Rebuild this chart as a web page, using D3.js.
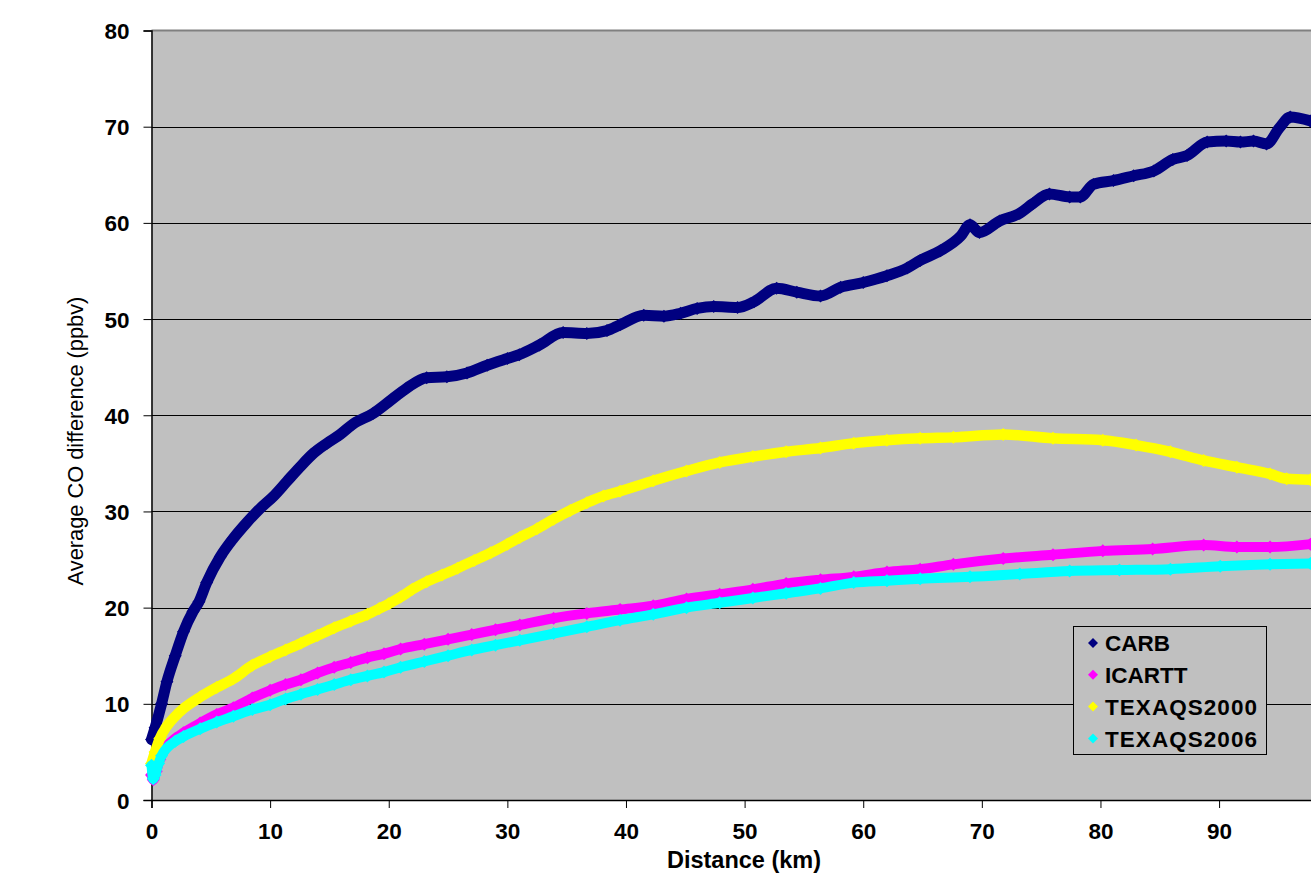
<!DOCTYPE html>
<html>
<head>
<meta charset="utf-8">
<script src="https://cdn.jsdelivr.net/npm/d3@7"></script>
<style>
  html, body { margin: 0; padding: 0; background: #ffffff; }
  svg { display: block; }
  text { font-family: Arial, "Liberation Sans", sans-serif; }
</style>
</head>
<body>
<svg id="chart" width="1311" height="896"></svg>
<script>
// ---------------- DATA ----------------
const seriesNames = ["CARB", "ICARTT", "TEXAQS2000", "TEXAQS2006"];
const seriesColors = ["#000080", "#FF00FF", "#FFFF00", "#00FFFF"];

const yTicks = [0, 10, 20, 30, 40, 50, 60, 70, 80];
const xTicks = [0, 10, 20, 30, 40, 50, 60, 70, 80, 90];

const carbDist = [0, 0.3, 0.85, 1.3, 2.0, 2.7, 3.5, 4.0, 4.65, 5.8, 6.9, 8.0, 9.15, 10.3, 11.4, 12.5, 13.7, 14.8, 15.9, 17.0, 18.7, 19.9, 21.5, 23.2, 24.9, 26.6, 28.3, 30, 31, 32.7, 34.7, 36.7, 38.4, 39.5, 41.5, 43.2, 44.6, 46.0, 47.4, 49.4, 50.8, 52.7, 54.4, 56.4, 58.1, 60.0, 62.0, 63.7, 64.8, 66.5, 68.2, 69.0, 69.8, 71.5, 73.2, 74.3, 75.7, 77.4, 78.3, 79.4, 81.1, 82.8, 84.5, 86.1, 87.3, 89.0, 90.6, 91.8, 92.9, 94.0, 95.1, 96.0, 97.7];
const carbCO = [6.3, 7.5, 10.0, 12.3, 15.0, 17.5, 19.6, 20.6, 22.6, 25.3, 27.2, 28.8, 30.3, 31.6, 33.1, 34.6, 36.1, 37.1, 38.0, 39.1, 40.2, 41.3, 42.8, 43.9, 44.0, 44.4, 45.2, 45.9, 46.3, 47.3, 48.6, 48.5, 48.8, 49.4, 50.4, 50.3, 50.6, 51.1, 51.3, 51.2, 51.8, 53.2, 52.8, 52.4, 53.3, 53.8, 54.5, 55.3, 56.1, 57.1, 58.6, 59.8, 59.0, 60.2, 61.0, 62.0, 63.0, 62.7, 62.7, 64.0, 64.4, 64.9, 65.4, 66.6, 67.0, 68.4, 68.5, 68.4, 68.5, 68.2, 69.9, 71.0, 70.6];

const icarttDist = [0, 0.15, 0.4, 0.7, 1.3, 2.0, 2.7, 4.1, 5.5, 6.9, 8.5, 10, 11.3, 12.6, 14, 15.4, 16.8, 18.2, 19.6, 21, 23, 25, 27, 29, 31.05, 33.9, 36.7, 39.5, 42.3, 45.1, 47.9, 50.7, 53.5, 56.4, 59.2, 62, 64.8, 67.6, 71.8, 76, 80.2, 84.4, 88.7, 91.5, 94.3, 97.7];
const icarttCO = [2.6, 2.1, 3.0, 4.2, 5.6, 6.4, 7.0, 8.0, 8.9, 9.6, 10.6, 11.4, 12.0, 12.5, 13.2, 13.8, 14.3, 14.8, 15.2, 15.7, 16.2, 16.7, 17.2, 17.7, 18.2, 18.9, 19.4, 19.8, 20.2, 20.9, 21.4, 21.9, 22.5, 22.9, 23.2, 23.7, 24.0, 24.5, 25.1, 25.5, 25.9, 26.1, 26.5, 26.3, 26.3, 26.6];

const tx2000Dist = [0, 0.3, 0.7, 1.3, 2.0, 2.7, 4.1, 5.5, 6.9, 8.5, 10, 11.3, 12.6, 14, 15.4, 16.8, 18.2, 19.2, 20, 21, 22, 23.2, 24.5, 25.8, 27.2, 28.6, 30, 31.05, 32.5, 33.9, 35.3, 36.7, 38.1, 39.5, 42.3, 45.1, 47.9, 50.7, 53.5, 56.4, 59.2, 62, 64.8, 67.6, 71.8, 76, 80.2, 83, 85.9, 88.7, 91.5, 94.3, 95.7, 97.7];
const tx2000CO = [3.8, 5.0, 6.4, 7.7, 8.7, 9.5, 10.7, 11.7, 12.6, 14.0, 14.9, 15.6, 16.3, 17.1, 17.9, 18.6, 19.3, 19.9, 20.4, 21.1, 21.9, 22.7, 23.4, 24.1, 24.9, 25.7, 26.6, 27.3, 28.2, 29.2, 30.1, 30.9, 31.6, 32.1, 33.2, 34.2, 35.1, 35.7, 36.2, 36.6, 37.1, 37.4, 37.6, 37.7, 38.0, 37.6, 37.4, 36.9, 36.2, 35.3, 34.6, 33.9, 33.4, 33.3];

const tx2006Dist = [0, 0.15, 0.3, 0.6, 0.85, 1.3, 2.0, 2.7, 4.1, 5.5, 6.9, 8.5, 10, 11.3, 12.6, 14, 15.4, 16.8, 18.2, 19.6, 21, 23, 25, 27, 29, 31.05, 33.9, 36.7, 39.5, 42.3, 45.1, 47.9, 50.7, 53.5, 56.4, 59.2, 62, 64.8, 69, 73.2, 77.4, 81.6, 85.9, 90.1, 94.3, 97.7];
const tx2006CO = [3.6, 2.2, 2.6, 3.8, 4.6, 5.4, 6.1, 6.6, 7.4, 8.1, 8.7, 9.4, 9.9, 10.5, 11.0, 11.5, 12.0, 12.5, 12.9, 13.3, 13.8, 14.4, 15.0, 15.6, 16.1, 16.6, 17.3, 18.0, 18.7, 19.3, 20.0, 20.5, 21.0, 21.5, 22.0, 22.6, 22.8, 23.0, 23.2, 23.5, 23.8, 23.9, 24.0, 24.3, 24.5, 24.6];

const xTitle = "Distance (km)";
const yTitle = "Average CO difference (ppbv)";

// ---------------- CHART ----------------
const svg = d3.select("#chart");
const plot = { left: 151.5, top: 30.5, right: 1337.7, bottom: 800 };

const x = d3.scaleLinear().domain([0, 100]).range([plot.left, plot.right]);
const y = d3.scaleLinear().domain([0, 80]).range([plot.bottom, plot.top]);

// background
svg.append("rect")
  .attr("x", plot.left).attr("y", plot.top)
  .attr("width", plot.right - plot.left).attr("height", plot.bottom - plot.top)
  .attr("fill", "#C0C0C0");

// gridlines
svg.append("g").selectAll("line")
  .data(yTicks.filter(d => d > 0 && d < 80))
  .join("line")
  .attr("x1", plot.left).attr("x2", plot.right)
  .attr("y1", d => Math.round(y(d)) + 0.5).attr("y2", d => Math.round(y(d)) + 0.5)
  .attr("stroke", "#000").attr("stroke-width", 1);

// top border
svg.append("line")
  .attr("x1", plot.left).attr("x2", plot.right)
  .attr("y1", plot.top).attr("y2", plot.top)
  .attr("stroke", "#808080").attr("stroke-width", 2);

// axes
const fontTick = "bold 22.5px Arial, 'Liberation Sans', sans-serif";
const yAxis = d3.axisLeft(y).tickValues(yTicks).tickSize(8).tickPadding(14).tickFormat(d3.format("d"));
const gy = svg.append("g").attr("transform", `translate(${plot.left},0)`).call(yAxis);
gy.select(".domain").attr("stroke", "#000").attr("stroke-width", 1.5);
gy.selectAll(".tick line").attr("stroke", "#000");
gy.selectAll(".tick text").style("font", fontTick).attr("fill", "#000").attr("dy", "0.36em");

const xAxis = d3.axisBottom(x).tickValues(xTicks).tickSize(8).tickPadding(15).tickFormat(d3.format("d"));
const gx = svg.append("g").attr("transform", `translate(0,${plot.bottom})`).call(xAxis);
gx.select(".domain").attr("stroke", "#000").attr("stroke-width", 1.5);
gx.selectAll(".tick line").attr("stroke", "#000");
gx.selectAll(".tick text").style("font", fontTick).attr("fill", "#000");

// axis titles
svg.append("text")
  .attr("x", 744).attr("y", 868)
  .attr("text-anchor", "middle")
  .style("font", "bold 23.5px Arial, 'Liberation Sans', sans-serif")
  .text(xTitle);

svg.append("text")
  .attr("transform", "translate(83,441) rotate(-90)")
  .attr("text-anchor", "middle")
  .style("font", "21.8px Arial, 'Liberation Sans', sans-serif")
  .text(yTitle);

// series
const allSeries = [
  { name: seriesNames[0], color: seriesColors[0], dist: carbDist, co: carbCO, w: 11 },
  { name: seriesNames[1], color: seriesColors[1], dist: icarttDist, co: icarttCO, w: 10 },
  { name: seriesNames[2], color: seriesColors[2], dist: tx2000Dist, co: tx2000CO, w: 10.5 },
  { name: seriesNames[3], color: seriesColors[3], dist: tx2006Dist, co: tx2006CO, w: 10 }
];

const diamond = r => `M0,${-r}L${r},0L0,${r}L${-r},0Z`;
const line = d3.line().x(d => x(d[0])).y(d => y(d[1])).curve(d3.curveMonotoneX);

allSeries.forEach(s => {
  const pts = s.dist.map((d, i) => [d, s.co[i]]);
  const g = svg.append("g");
  g.append("path")
    .attr("d", line(pts))
    .attr("fill", "none")
    .attr("stroke", s.color)
    .attr("stroke-width", s.w)
    .attr("stroke-linejoin", "round")
    .attr("stroke-linecap", "round");
  g.selectAll("path.m")
    .data(pts)
    .join("path")
    .attr("class", "m")
    .attr("transform", d => `translate(${x(d[0])},${y(d[1])})`)
    .attr("d", diamond(6.5))
    .attr("fill", s.color);
});

// legend
const lg = svg.append("g");
lg.append("rect")
  .attr("x", 1073.5).attr("y", 626.5)
  .attr("width", 193).attr("height", 128)
  .attr("fill", "#C0C0C0")
  .attr("stroke", "#000").attr("stroke-width", 1);
seriesNames.forEach((n, i) => {
  const cy = 643 + i * 31.8;
  lg.append("path")
    .attr("transform", `translate(1093,${cy})`)
    .attr("d", diamond(5))
    .attr("fill", seriesColors[i]);
  lg.append("text")
    .attr("x", 1105).attr("y", cy)
    .attr("dy", "0.36em")
    .style("font", "bold 22.5px Arial, 'Liberation Sans', sans-serif")
    .attr("fill", "#000")
    .attr("textLength", n.length > 6 ? 152 : null)
    .text(n);
});
</script>
</body>
</html>
